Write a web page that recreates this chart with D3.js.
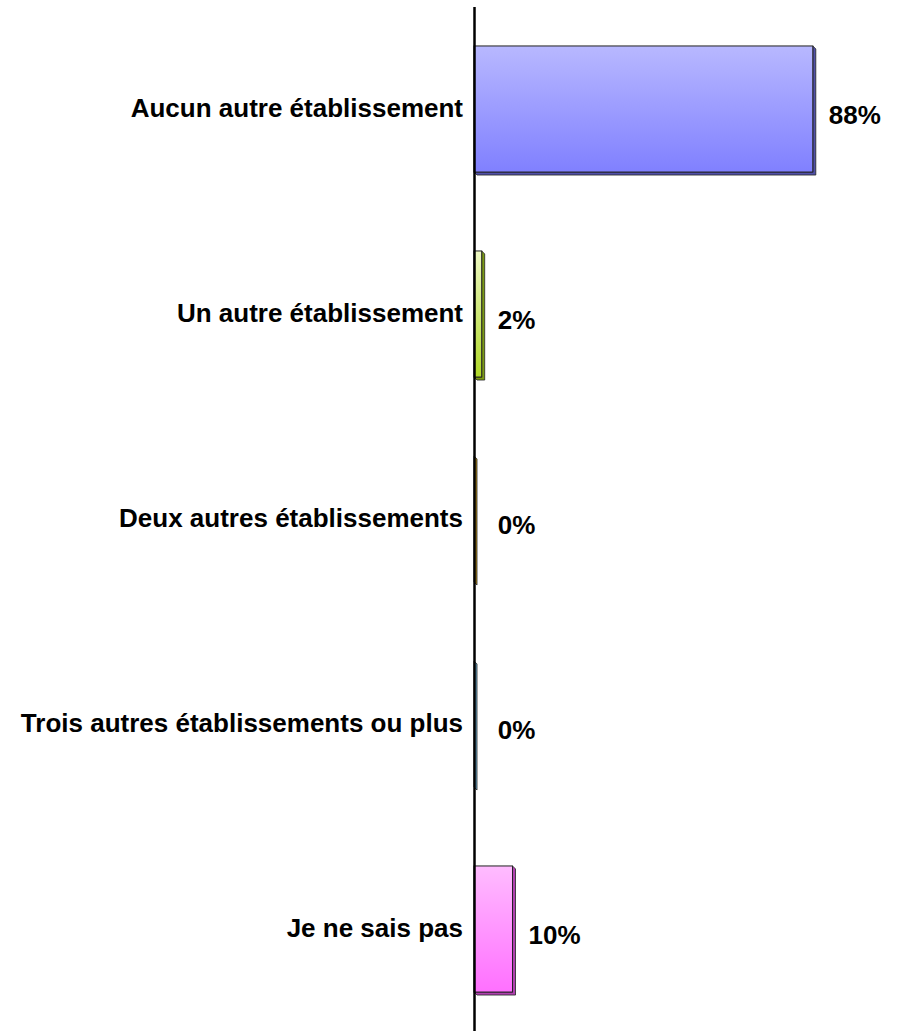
<!DOCTYPE html>
<html lang="fr"><head><meta charset="utf-8">
<title>Autres établissements</title>
<script src="https://cdn.jsdelivr.net/npm/d3@7"></script>
<style>
  body { margin: 0; background: #fff; }
  text { font-family: "Liberation Sans", Arial, sans-serif; font-weight: bold; }
</style>
</head>
<body>
<script>
// data
var categories = ["Aucun autre établissement", "Un autre établissement",
                  "Deux autres établissements", "Trois autres établissements ou plus",
                  "Je ne sais pas"];
var values = [0.88, 0.02, 0, 0, 0.10];
var valueLabels = ["88%", "2%", "0%", "0%", "10%"];

var width = 901, height = 1031;
var axisX = 474;
var depth = 3;

// top colour, bottom colour, side colour
var palette = [
  ["#b8b8ff", "#8080ff", "#5050a8"],
  ["#eef8c4", "#b0d828", "#7c9a14"],
  ["#e8c060", "#c89828", "#b08818"],
  ["#a8d8f0", "#70b0d8", "#6aa8c8"],
  ["#ffbcff", "#ff70ff", "#b040b0"]
];

var svg = d3.select("body").append("svg")
  .attr("width", width)
  .attr("height", height);

var defs = svg.append("defs");
palette.forEach(function(c, i){
  var g = defs.append("linearGradient")
    .attr("id", "grad" + i)
    .attr("x1", 0).attr("y1", 0).attr("x2", 0).attr("y2", 1);
  g.append("stop").attr("offset", "0%").attr("stop-color", c[0]);
  g.append("stop").attr("offset", "100%").attr("stop-color", c[1]);
});

var x = d3.scaleLinear().domain([0, 1]).range([axisX, axisX + 385]);
var y = d3.scaleBand().domain(categories).range([6.5, 1031.5])
  .paddingInner(0.385).paddingOuter(0.1925);

var bars = svg.selectAll(".bar")
  .data(categories)
  .enter().append("g")
  .attr("class", "bar");

// side / bottom of the 3D bar
bars.append("path")
  .attr("fill", function(d, i){ return palette[i][2]; })
  .attr("stroke", "#222")
  .attr("stroke-width", 0.8)
  .attr("d", function(d, i){
    var x0 = x(0), x1 = x(values[i]);
    var y0 = y(d), y1 = y(d) + y.bandwidth();
    return "M" + x1 + "," + y0 + "L" + (x1 + depth) + "," + (y0 + depth) +
           "L" + (x1 + depth) + "," + (y1 + depth) + "L" + (x0 + depth) + "," + (y1 + depth) +
           "L" + x0 + "," + y1 + "L" + x1 + "," + y1 + "Z";
  });

// front face
bars.append("rect")
  .attr("x", x(0))
  .attr("y", function(d){ return y(d); })
  .attr("width", function(d, i){ return x(values[i]) - x(0); })
  .attr("height", y.bandwidth())
  .attr("fill", function(d, i){ return "url(#grad" + i + ")"; })
  .attr("stroke", "#222")
  .attr("stroke-width", function(d, i){ return values[i] > 0 ? 1 : 0; });

// value labels
svg.selectAll(".val")
  .data(categories)
  .enter().append("text")
  .attr("class", "val")
  .attr("x", function(d, i){ return Math.max(x(values[i]), x(0.02)) + 16; })
  .attr("y", function(d){ return y(d) + y.bandwidth() / 2 + 6; })
  .attr("dy", "0.35em")
  .attr("font-size", 26)
  .attr("fill", "#000")
  .text(function(d, i){ return valueLabels[i]; });

// category axis
var axis = svg.append("g")
  .attr("transform", "translate(" + axisX + ",0)")
  .call(d3.axisLeft(y).tickSize(0).tickSizeOuter(0).tickPadding(11));

axis.select(".domain").attr("stroke", "#000").attr("stroke-width", 2.5);
axis.selectAll("text")
  .attr("font-size", 26)
  .attr("fill", "#000");
</script>
</body></html>
